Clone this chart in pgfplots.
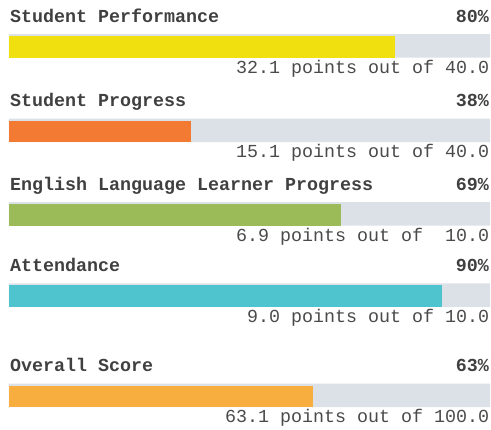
\documentclass[border=0pt]{standalone}
\usepackage{pgfplots}
\pgfplotsset{compat=1.18}
\usepackage{pgfplotstable}
\usepackage{fontspec}
\setmainfont{Liberation Mono}
\definecolor{bgbar}{HTML}{DCE1E7}
\definecolor{cA}{HTML}{F0E010}
\definecolor{cB}{HTML}{F27A33}
\definecolor{cC}{HTML}{9BBB59}
\definecolor{cD}{HTML}{4FC4CE}
\definecolor{cE}{HTML}{F7AE3F}
\definecolor{txt}{HTML}{404040}
\definecolor{valtxt}{HTML}{4A4A4A}
\pgfplotstableread{
ypos score max
45.85 32.1 40.0
130.3 15.1 40.0
213.85 6.9 10.0
295.0 9.0 10.0
395.3 63.1 100.0
}\scores
\begin{document}
\begin{tikzpicture}[
  title/.style={anchor=base west, inner sep=0pt, font=\fontsize{13.75pt}{16pt}\selectfont\bfseries, text=txt},
  pct/.style={anchor=base east, inner sep=0pt, font=\fontsize{13.75pt}{16pt}\selectfont\bfseries, text=txt},
  val/.style={anchor=base east, inner sep=0pt, font=\fontsize{13.75pt}{16pt}\selectfont, text=valtxt}]
\begin{axis}[
  width=368.25pt, height=321.75pt, scale only axis,
  hide axis, clip=false,
  xmin=-1.871, xmax=100.208,
  ymin=0, ymax=429, y dir=reverse,
]
\addplot[xbar, bar width=23.5, fill=bgbar, draw=none] table[x expr=100, y=ypos]{\scores};
\addplot[xbar, bar width=21.6, fill=cA, draw=none, restrict expr to domain={\coordindex}{0:0}]
  table[x expr=\thisrow{score}/\thisrow{max}*100, y expr=\thisrow{ypos}+1]{\scores};
\addplot[xbar, bar width=21.6, fill=cB, draw=none, restrict expr to domain={\coordindex}{1:1}]
  table[x expr=\thisrow{score}/\thisrow{max}*100, y expr=\thisrow{ypos}+1]{\scores};
\addplot[xbar, bar width=21.6, fill=cC, draw=none, restrict expr to domain={\coordindex}{2:2}]
  table[x expr=\thisrow{score}/\thisrow{max}*100, y expr=\thisrow{ypos}+1]{\scores};
\addplot[xbar, bar width=21.6, fill=cD, draw=none, restrict expr to domain={\coordindex}{3:3}]
  table[x expr=\thisrow{score}/\thisrow{max}*100, y expr=\thisrow{ypos}+1]{\scores};
\addplot[xbar, bar width=21.6, fill=cE, draw=none, restrict expr to domain={\coordindex}{4:4}]
  table[x expr=\thisrow{score}/\thisrow{max}*100, y expr=\thisrow{ypos}+1]{\scores};

\node[title] at (axis cs:0.2,22) {Student Performance};
\node[pct] at (axis cs:99.8,22) {80\%};
\node[val] at (axis cs:99.9,73.3) {32.1 points out of 40.0};

\node[title] at (axis cs:0.2,106.3) {Student Progress};
\node[pct] at (axis cs:99.8,106.3) {38\%};
\node[val] at (axis cs:99.9,157.8) {15.1 points out of 40.0};

\node[title] at (axis cs:0.2,190) {English Language Learner Progress};
\node[pct] at (axis cs:99.8,190) {69\%};
\node[val] at (axis cs:99.9,241.2) {6.9 points out of\ \ 10.0};

\node[title] at (axis cs:0.2,271.3) {Attendance};
\node[pct] at (axis cs:99.8,271.3) {90\%};
\node[val] at (axis cs:99.9,322.2) {9.0 points out of 10.0};

\node[title] at (axis cs:0.2,371.3) {Overall Score};
\node[pct] at (axis cs:99.8,371.3) {63\%};
\node[val] at (axis cs:99.9,422.8) {63.1 points out of 100.0};
\end{axis}
\pgfresetboundingbox
\path (current axis.south west) rectangle (current axis.north east);
\end{tikzpicture}
\end{document}
